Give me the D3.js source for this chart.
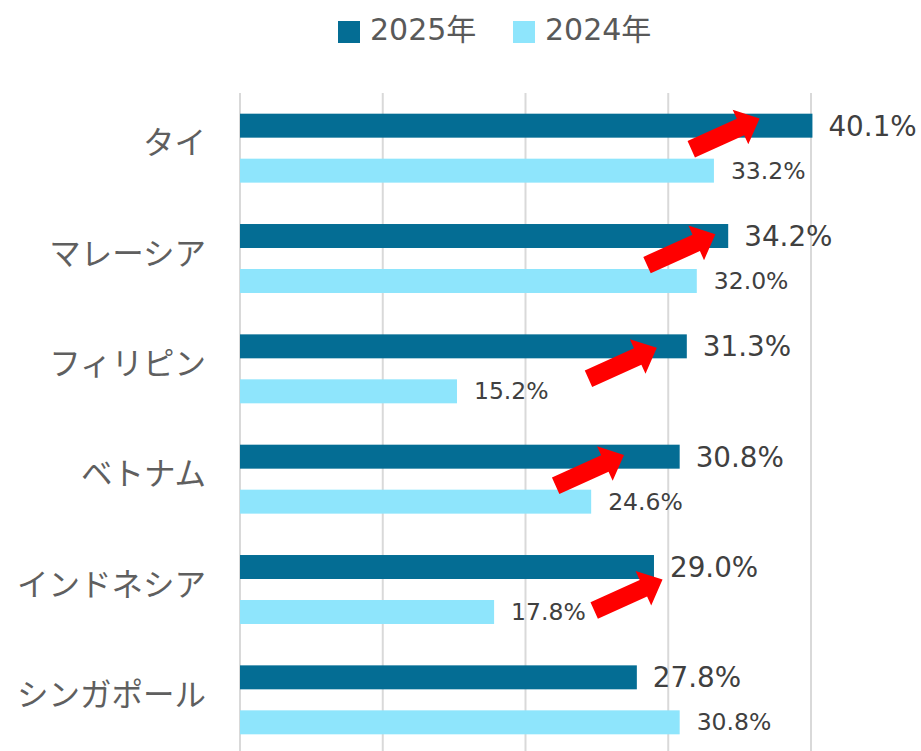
<!DOCTYPE html>
<html>
<head>
<meta charset="utf-8">
<script src="https://cdn.jsdelivr.net/npm/d3@7"></script>
<style>
  body { margin: 0; background: #fff; }
  svg text { font-family: "DejaVu Sans", "Noto Sans CJK JP", sans-serif; }
</style>
</head>
<body>
<div id="chart"></div>
<script>
// data
const categories = ['タイ', 'マレーシア', 'フィリピン', 'ベトナム', 'インドネシア', 'シンガポール'];
const seriesNames = ['2025年', '2024年'];
const values2025 = [40.1, 34.2, 31.3, 30.8, 29.0, 27.8];
const values2024 = [33.2, 32.0, 15.2, 24.6, 17.8, 30.8];
const xTicks = [0, 10, 20, 30, 40];
// red arrows: tip position in % units and fraction of category step
const arrowTipValue = [36.4, 33.3, 29.2, 26.9, 29.6];
const arrowTipBand = [0.23, 0.28, 0.31, 0.28, 0.41];

const colors = ['#046d94', '#8ee5fc'];
const width = 921, height = 751;
const margin = { top: 93, left: 240 };

const svg = d3.select('#chart').append('svg')
  .attr('width', width)
  .attr('height', height);

const x = d3.scaleLinear().domain([0, 40]).range([margin.left, 811]);
const y = d3.scaleBand().domain(categories).range([margin.top, margin.top + 662])
  .paddingInner(0.375).paddingOuter(0.1875);
const ySub = d3.scaleBand().domain(seriesNames).range([0, y.bandwidth()])
  .paddingInner(0.467).paddingOuter(0);
const bandTop = c => y(c) - y.step() * y.paddingInner() / 2;

// gridlines
svg.append('g')
  .selectAll('line')
  .data(xTicks)
  .join('line')
  .attr('x1', d => x(d)).attr('x2', d => x(d))
  .attr('y1', margin.top).attr('y2', height)
  .attr('stroke', '#d9d9d9')
  .attr('stroke-width', 2);

// category labels
svg.append('g')
  .selectAll('text')
  .data(categories)
  .join('text')
  .attr('x', 206)
  .attr('y', d => y(d) + y.bandwidth() / 2 + 6)
  .attr('text-anchor', 'end')
  .attr('font-size', 31.5)
  .attr('fill', '#5f5f5f')
  .text(d => d);

const rows = categories.map((c, i) => ({ cat: c, vals: [values2025[i], values2024[i]] }));

const groups = svg.append('g')
  .selectAll('g')
  .data(rows)
  .join('g')
  .attr('transform', d => `translate(0,${y(d.cat)})`);

groups.selectAll('rect')
  .data(d => d.vals.map((v, j) => ({ key: seriesNames[j], v, j })))
  .join('rect')
  .attr('x', x(0))
  .attr('y', d => ySub(d.key))
  .attr('width', d => x(d.v) - x(0))
  .attr('height', ySub.bandwidth())
  .attr('fill', d => colors[d.j]);

groups.selectAll('text')
  .data(d => d.vals.map((v, j) => ({ key: seriesNames[j], v, j })))
  .join('text')
  .attr('x', d => x(d.v) + (d.j === 0 ? 16 : 17))
  .attr('y', d => ySub(d.key) + ySub.bandwidth() / 2 + (d.j === 0 ? 10 : 8))
  .attr('font-size', d => d.j === 0 ? 27.8 : 23.5)
  .attr('fill', '#404040')
  .text(d => d3.format('.1f')(d.v) + '%');

// arrows
const arrowLen = 75, shaftW = 18, headW = 38, headL = 21;
const arrowShape = [
  [0, -shaftW / 2], [arrowLen - headL, -shaftW / 2], [arrowLen - headL, -headW / 2],
  [arrowLen, 0],
  [arrowLen - headL, headW / 2], [arrowLen - headL, shaftW / 2], [0, shaftW / 2]
];
svg.append('g')
  .selectAll('path')
  .data(arrowTipValue.map((v, i) => ({ v, f: arrowTipBand[i], cat: categories[i] })))
  .join('path')
  .attr('d', 'M' + arrowShape.map(p => p.join(',')).join('L') + 'Z')
  .attr('fill', '#ff0000')
  .attr('transform', d =>
    `translate(${x(d.v)},${bandTop(d.cat) + d.f * y.step()}) rotate(-24.3) translate(${-arrowLen},0)`);

// legend
const legend = svg.append('g').attr('transform', 'translate(338,21)');
const legendX = [0, 175];
seriesNames.forEach((s, i) => {
  const g = legend.append('g').attr('transform', `translate(${legendX[i]},0)`);
  g.append('rect').attr('width', 22).attr('height', 22).attr('fill', colors[i]);
  g.append('text').attr('x', 32).attr('y', 19)
    .attr('font-size', 30).attr('fill', '#595959').text(s);
});
</script>
</body>
</html>
